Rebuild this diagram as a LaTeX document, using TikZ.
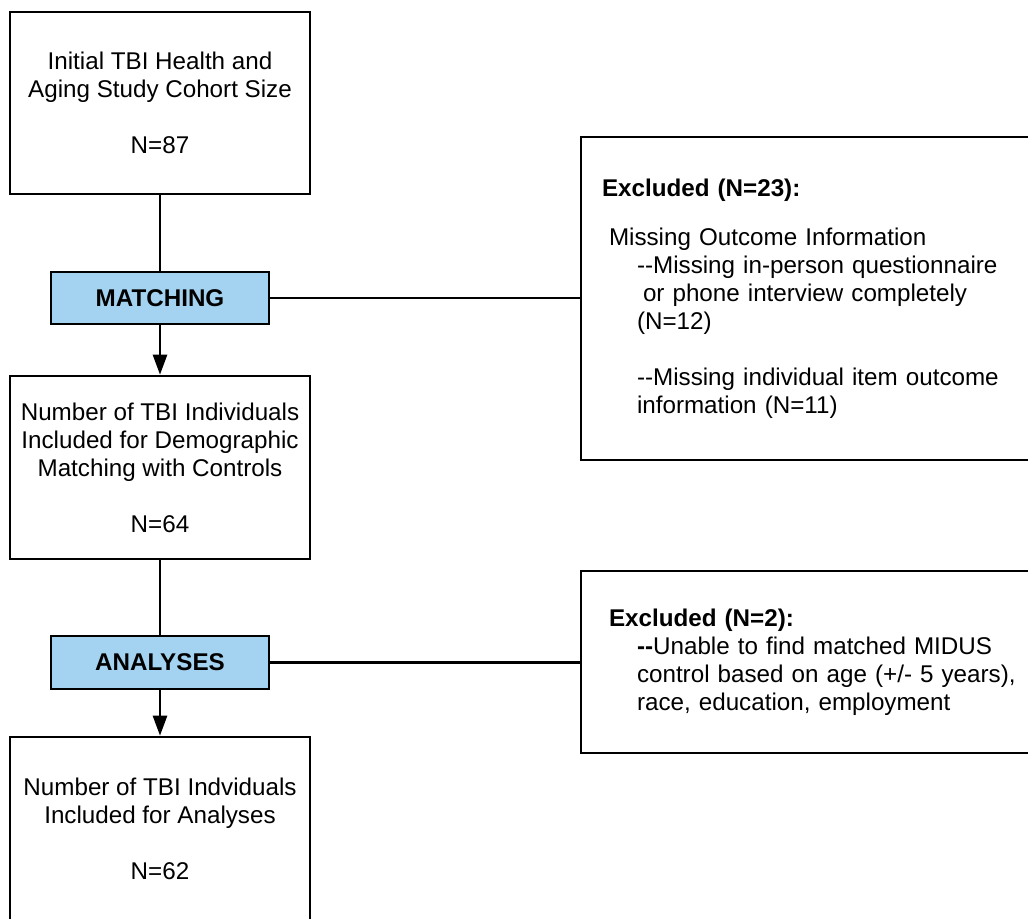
\documentclass[tikz,border=0pt]{standalone}
\usepackage{fontspec}
\setmainfont{Liberation Sans}
\usepackage{xcolor}
\usepackage{tikz}
\usetikzlibrary{arrows.meta,positioning}

\definecolor{stageblue}{RGB}{163,211,240}
\newcommand{\boxfont}{\fontsize{12.1pt}{14pt}\selectfont}

\begin{document}
\begin{tikzpicture}[x=0.5pt, y=-0.5pt, line width=1.3pt, font=\boxfont,
        box/.style={draw, minimum width=150pt, align=center, inner sep=0pt},
        stage/.style={draw, fill=stageblue, minimum width=109pt, minimum height=26pt, inner sep=0pt, font=\boxfont\bfseries},
        note/.style={draw, text width=208.5pt, inner xsep=10.5pt, inner ysep=0pt, align=left},
        arrowline/.style={-{Triangle[length=10pt,width=7pt]}}]
        \useasboundingbox (0,0) rectangle (1028,918);
        \clip (0,0) rectangle (1028,918);
        \node[box, minimum height=91pt] (cohort) at (160,103) {Initial TBI Health and\\Aging Study Cohort Size\\[14pt]N=87};
        \node[stage] (matching) at (160,298) {MATCHING};
        \node[box, minimum height=91.5pt] (demog) at (160,467.5) {Number of TBI Individuals\\Included for Demographic\\Matching with Controls\\[14pt]N=64};
        \node[stage, minimum height=26.5pt] (analyses) at (160,662.5) {ANALYSES};
        \node[box, minimum height=92pt] (final) at (160,829) {Number of TBI Indviduals\\Included for Analyses\\[14pt]N=62};
        \node[note, minimum height=161.5pt] (exclA) at (810.5,298.5) {\textbf{Excluded (N=23):}\\[10.5pt]
            \hspace*{3.5pt}Missing Outcome Information\\
            \hspace*{17.5pt}-{}-Missing in-person questionnaire\\
            \hspace*{20.5pt}or phone interview completely\\
            \hspace*{17.5pt}(N=12)\\[14pt]
            \hspace*{17.5pt}-{}-Missing individual item outcome\\
            \hspace*{17.5pt}information (N=11)};
        \node[note, minimum height=91pt] (exclB) at (810.5,662) {\hspace*{3.5pt}\textbf{Excluded (N=2):}\\
            \hspace*{17.5pt}\textbf{-{}-}Unable to find matched MIDUS\\
            \hspace*{17.5pt}control based on age (+/- 5 years),\\
            \hspace*{17.5pt}race, education, employment};
        \draw (cohort) -- (matching);
        \draw[arrowline] (matching) -- (demog);
        \draw (demog) -- (analyses);
        \draw[arrowline] (analyses) -- (final);
        \draw (matching.east) -- (matching.east -| exclA.west);
        \draw (analyses.east) -- (analyses.east -| exclB.west);
    \end{tikzpicture}
\end{document}
